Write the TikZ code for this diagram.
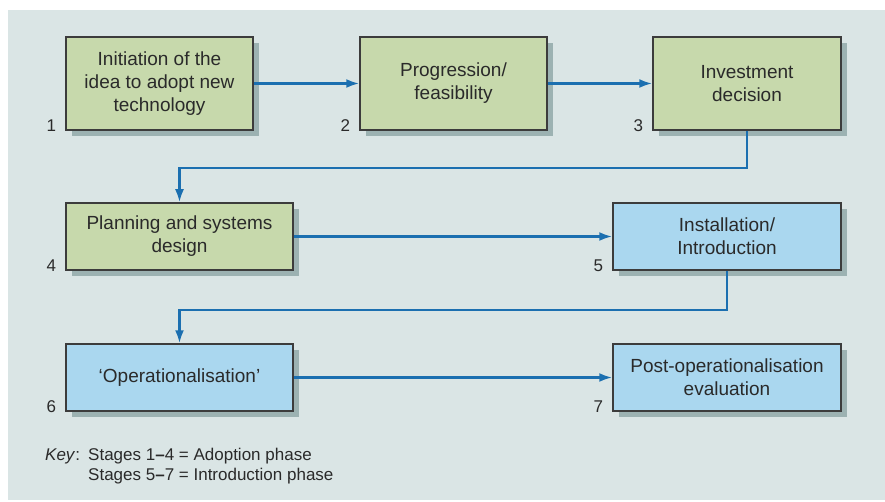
\documentclass[tikz,border=0pt]{standalone}
\usepackage{fontspec}
\setmainfont{Liberation Sans}
\usetikzlibrary{arrows.meta}
\definecolor{bgc}{HTML}{DAE5E5}
\definecolor{greenfill}{HTML}{C7D9AC}
\definecolor{bluefill}{HTML}{AAD7EF}
\definecolor{shadowc}{HTML}{9CB2B2}
\definecolor{arrowc}{HTML}{1B6FB0}
\definecolor{txt}{HTML}{2A2A2A}
\definecolor{edge}{HTML}{3C3C3C}
\tikzset{
  stage/.style={draw=edge, line width=1.5pt, text=txt, align=center, inner sep=2pt,
    font=\fontsize{19}{23}\selectfont},
  greenbox/.style={stage, fill=greenfill},
  bluebox/.style={stage, fill=bluefill},
  num/.style={text=txt, font=\fontsize{17}{20}\selectfont, anchor=base east, inner sep=0pt},
  flow/.style={draw=arrowc, line width=2.4pt, -{Latex[length=13pt,width=9pt]}},
  keytext/.style={anchor=base west, text=txt, inner sep=0pt, font=\fontsize{17}{20}\selectfont},
}
\newcommand{\shadowbox}[4]{% cx cy w h
  \fill[shadowc] (#1-#3/2+6,#2-#4/2+6) rectangle (#1+#3/2+6,#2+#4/2+6);}
\begin{document}
\begin{tikzpicture}[x=1pt,y=-1pt]
\useasboundingbox (0,0) rectangle (885,502);
\fill[white] (0,0) rectangle (885,502);
\fill[bgc] (8,10) rectangle (885,500);
% shadows
\shadowbox{159.5}{83.5}{187}{93}
\shadowbox{453.5}{83.5}{187}{93}
\shadowbox{747}{83.5}{188}{93}
\shadowbox{179.5}{236.5}{227}{67}
\shadowbox{727}{236.5}{228}{67}
\shadowbox{179.5}{377.5}{227}{67}
\shadowbox{727}{377.5}{228}{67}
% boxes
\node[greenbox, minimum width=187pt, minimum height=93pt] (b1) at (159.5,83.5) {Initiation of the\\idea to adopt new\\technology};
\node[greenbox, minimum width=187pt, minimum height=93pt] (b2) at (453.5,83.5) {Progression/\\feasibility};
\node[greenbox, minimum width=188pt, minimum height=93pt] (b3) at (747,83.5) {Investment\\decision};
\node[greenbox, minimum width=227pt, minimum height=67pt] (b4) at (179.5,236.5) {Planning and systems\\design};
\node[bluebox, minimum width=228pt, minimum height=67pt] (b5) at (727,236.5) {Installation/\\Introduction};
\node[bluebox, minimum width=227pt, minimum height=67pt] (b6) at (179.5,377.5) {`Operationalisation'};
\node[bluebox, minimum width=228pt, minimum height=67pt] (b7) at (727,377.5) {Post-operationalisation\\evaluation};
% numbers
\node[num] (n1) at ([xshift=-9pt,yshift=-1pt]b1.south west) {1};
\node[num] (n2) at ([xshift=-9pt,yshift=-1pt]b2.south west) {2};
\node[num] (n3) at ([xshift=-9pt,yshift=-1pt]b3.south west) {3};
\node[num] (n4) at ([xshift=-9pt,yshift=-1pt]b4.south west) {4};
\node[num] (n5) at ([xshift=-9pt,yshift=-1pt]b5.south west) {5};
\node[num] (n6) at ([xshift=-9pt,yshift=-1pt]b6.south west) {6};
\node[num] (n7) at ([xshift=-9pt,yshift=-1pt]b7.south west) {7};
% connectors
\coordinate (c3a) at (747,168);
\coordinate (c3b) at (179.5,168);
\coordinate (c5a) at (727,310);
\coordinate (c5b) at (179.5,310);
\draw[flow] (b1.east) -- (b2.west);
\draw[flow] (b2.east) -- (b3.west);
\draw[flow] (b3.south) -- (c3a) -- (c3b) -- (b4.north);
\draw[flow] (b4.east) -- (b5.west);
\draw[flow] (b5.south) -- (c5a) -- (c5b) -- (b6.north);
\draw[flow] (b6.east) -- (b7.west);
% key
\node[keytext] (key) at (45,460) {\makebox[43pt][l]{\textit{Key}:}Stages 1\textbf{--}4 = Adoption phase};
\node[keytext] (key2) at (88,480) {Stages 5\textbf{--}7 = Introduction phase};
\end{tikzpicture}
\end{document}
